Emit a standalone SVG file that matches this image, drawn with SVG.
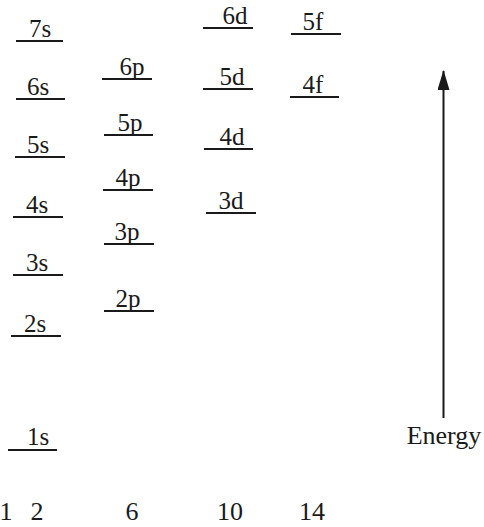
<svg xmlns="http://www.w3.org/2000/svg" width="484" height="527" viewBox="0 0 484 527">
<style>
text{font-family:"Liberation Serif","Times New Roman",serif;fill:#1a1a1a;text-anchor:middle}
.lbl{font-size:25px}
.big{font-size:26px}
.lv{stroke:#1a1a1a;stroke-width:1.8}
</style>
<defs>
<marker id="ah" markerWidth="20" markerHeight="12" refX="19" refY="6" orient="auto" markerUnits="userSpaceOnUse" viewBox="0 0 20 12">
<path d="M0,0 L20,6 L0,12 Z" fill="#1a1a1a"/>
</marker>
</defs>
<rect width="484" height="527" fill="#fff"/>
<g id="s-levels">
<g id="n7s"><line class="lv" x1="16" y1="41" x2="63" y2="41"/><text class="lbl" x="40" y="37">7s</text></g>
<g id="n6s"><line class="lv" x1="16" y1="99" x2="65" y2="99"/><text class="lbl" x="38" y="95">6s</text></g>
<g id="n5s"><line class="lv" x1="15" y1="157" x2="65" y2="157"/><text class="lbl" x="38" y="153">5s</text></g>
<g id="n4s"><line class="lv" x1="13" y1="217" x2="63" y2="217"/><text class="lbl" x="37" y="213">4s</text></g>
<g id="n3s"><line class="lv" x1="13" y1="275" x2="63" y2="275"/><text class="lbl" x="37" y="271">3s</text></g>
<g id="n2s"><line class="lv" x1="11" y1="336" x2="61" y2="336"/><text class="lbl" x="35" y="332">2s</text></g>
<g id="n1s"><line class="lv" x1="8" y1="450" x2="57" y2="450"/><text class="lbl" x="38" y="445">1s</text></g>
</g>
<g id="p-levels">
<g id="n6p"><line class="lv" x1="102" y1="79" x2="152" y2="79"/><text class="lbl" x="132" y="75">6p</text></g>
<g id="n5p"><line class="lv" x1="104" y1="135" x2="153" y2="135"/><text class="lbl" x="130" y="131">5p</text></g>
<g id="n4p"><line class="lv" x1="103" y1="190" x2="153" y2="190"/><text class="lbl" x="128" y="186">4p</text></g>
<g id="n3p"><line class="lv" x1="104" y1="244" x2="154" y2="244"/><text class="lbl" x="127" y="240">3p</text></g>
<g id="n2p"><line class="lv" x1="104" y1="311" x2="154" y2="311"/><text class="lbl" x="128" y="307">2p</text></g>
</g>
<g id="d-levels">
<g id="n6d"><line class="lv" x1="203" y1="28" x2="253" y2="28"/><text class="lbl" x="235" y="24">6d</text></g>
<g id="n5d"><line class="lv" x1="203" y1="89" x2="253" y2="89"/><text class="lbl" x="232" y="85">5d</text></g>
<g id="n4d"><line class="lv" x1="204" y1="149" x2="253" y2="149"/><text class="lbl" x="232" y="145">4d</text></g>
<g id="n3d"><line class="lv" x1="206" y1="213" x2="256" y2="213"/><text class="lbl" x="231" y="209">3d</text></g>
</g>
<g id="f-levels">
<g id="n5f"><line class="lv" x1="291" y1="34" x2="341" y2="34"/><text class="lbl" x="313" y="30">5f</text></g>
<g id="n4f"><line class="lv" x1="290" y1="97" x2="339" y2="97"/><text class="lbl" x="313" y="93">4f</text></g>
</g>
<g id="connectors">
<line x1="443.5" y1="418" x2="443.5" y2="71" stroke="#1a1a1a" stroke-width="2" marker-end="url(#ah)"/>
</g>
<g id="energy-label"><text class="big" x="444" y="444">Energy</text></g>
<g id="capacities">
<text class="big" x="6" y="520">1</text>
<text class="big" x="37" y="520">2</text>
<text class="big" x="132" y="520">6</text>
<text class="big" x="230" y="520">10</text>
<text class="big" x="312" y="520">14</text>
</g>
</svg>
